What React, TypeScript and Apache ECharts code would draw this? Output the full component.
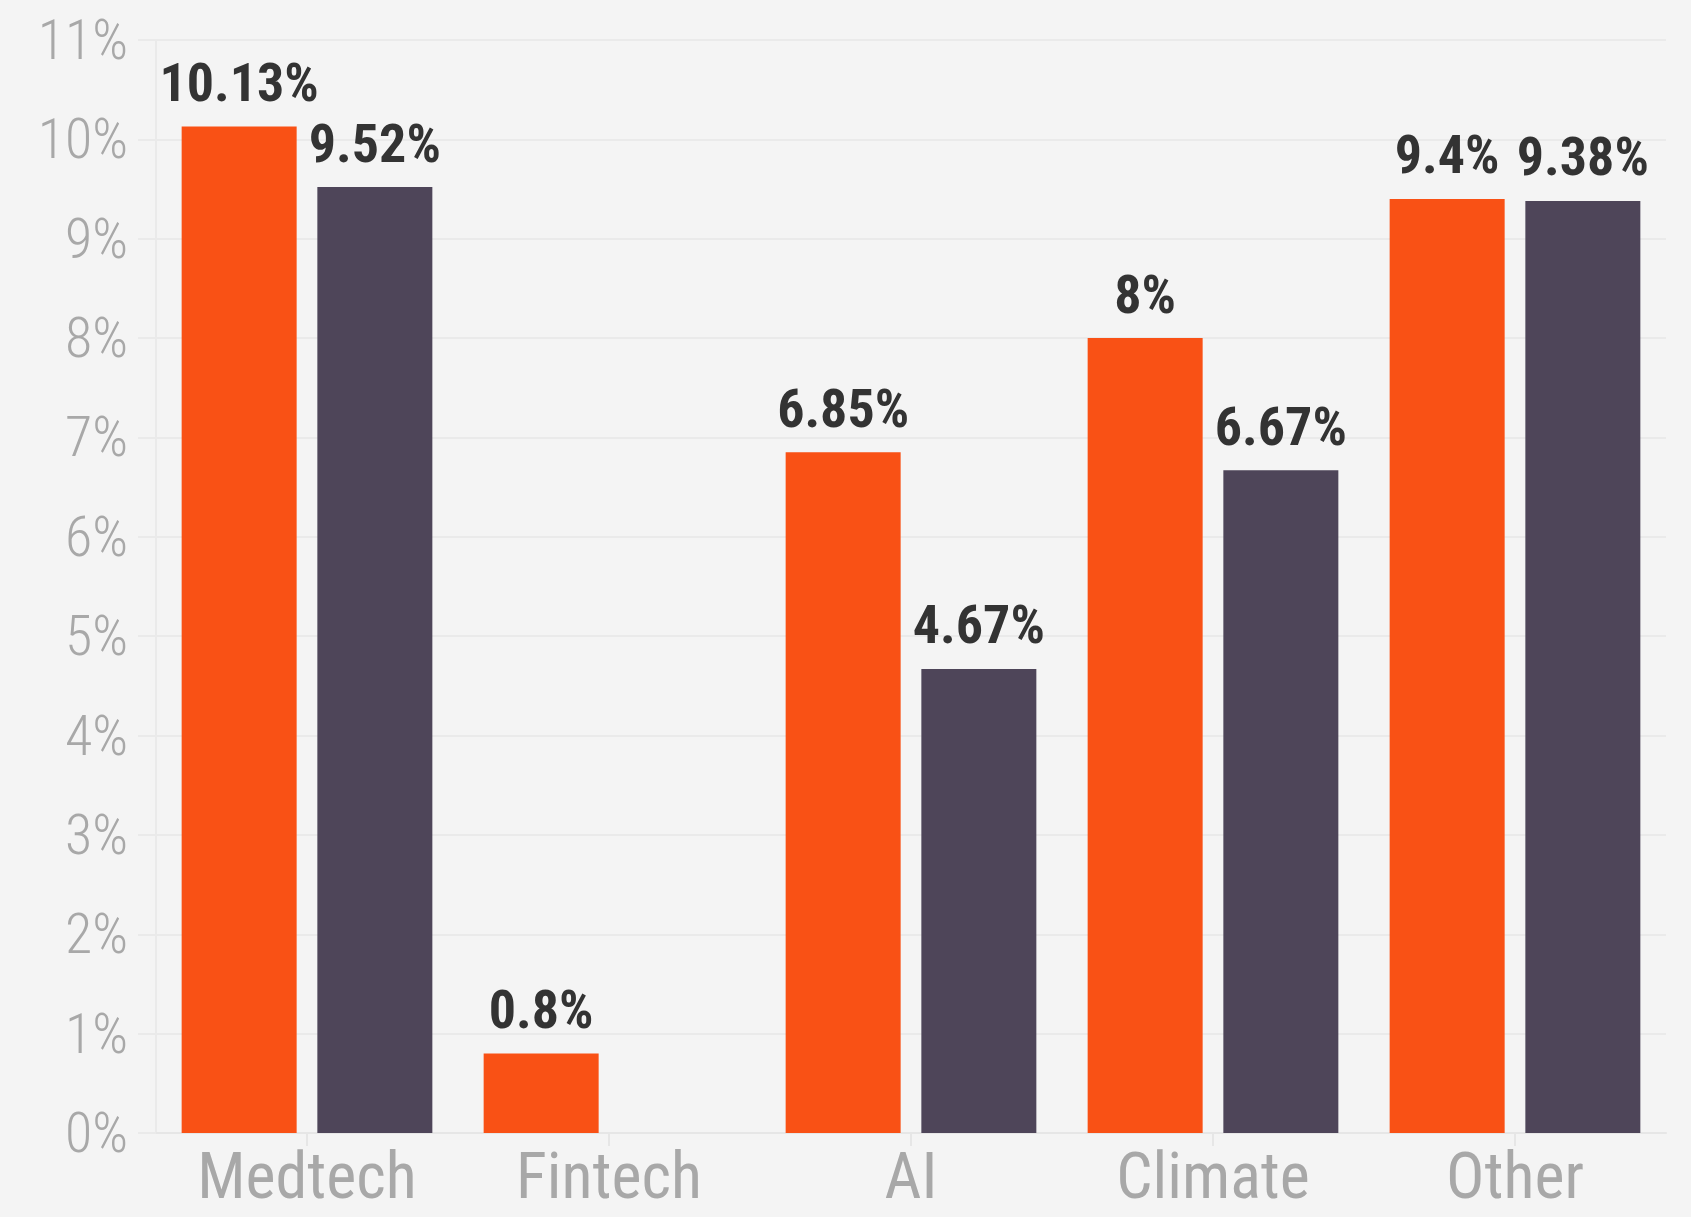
import React, { useEffect, useRef } from "react";
import * as echarts from "echarts";

const categories = ["Medtech", "Fintech", "AI", "Climate", "Other"];
const seriesA = [10.13, 0.8, 6.85, 8, 9.4];
const seriesB: (number | null)[] = [9.52, null, 4.67, 6.67, 9.38];
const yTicks = { min: 0, max: 11, interval: 1 };

const FONT = "'Roboto Condensed', 'Liberation Sans Narrow', 'DejaVu Sans Condensed', Roboto, sans-serif";

export default function App() {
  const ref = useRef<HTMLDivElement>(null);
  useEffect(() => {
    document.body.style.margin = "0";
    document.body.style.background = "#F4F4F4";
    const chart = echarts.init(ref.current!, null, { renderer: "svg" });
    const labelCommon = {
      show: true,
      position: "top" as const,
      distance: 17,
      color: "#333333",
      fontFamily: FONT,
      fontWeight: "bold" as const,
      fontSize: 54,
      formatter: (p: any) => `${p.value}%`,
    };
    chart.setOption({
      animation: false,
      backgroundColor: "#F4F4F4",
      grid: { left: 156, right: 25, top: 40, bottom: 84, containLabel: false },
      xAxis: {
        type: "category",
        data: categories,
        axisLine: { show: true, lineStyle: { color: "#E6E6E6", width: 2 } },
        axisTick: { show: true, alignWithLabel: true, length: 13, lineStyle: { color: "#E6E6E6", width: 2 } },
        axisLabel: { interval: 0, color: "#A8A8A8", fontFamily: FONT, fontSize: 64, lineHeight: 52, margin: 17 },
      },
      yAxis: {
        type: "value",
        min: yTicks.min,
        max: yTicks.max,
        interval: yTicks.interval,
        axisLine: { show: true, lineStyle: { color: "#EAEAEA", width: 2 } },
        axisTick: { show: true, inside: false, length: 18, lineStyle: { color: "#EAEAEA", width: 2 } },
        splitLine: { show: true, lineStyle: { color: "#EAEAEA", width: 2 } },
        axisLabel: { color: "#A8A8A8", fontFamily: FONT, fontWeight: 300, fontSize: 56, margin: 28, formatter: "{value}%" },
      },
      series: [
        {
          type: "bar",
          data: seriesA,
          barWidth: 115,
          barGap: "18%",
          itemStyle: { color: "#F95115" },
          label: labelCommon,
        },
        {
          type: "bar",
          data: seriesB,
          barWidth: 115,
          barGap: "18%",
          itemStyle: { color: "#4E4559" },
          label: labelCommon,
        },
      ],
    });
    return () => chart.dispose();
  }, []);
  return <div ref={ref} style={{ position: "fixed", left: 0, top: 0, width: 1691, height: 1217 }} />;
}
